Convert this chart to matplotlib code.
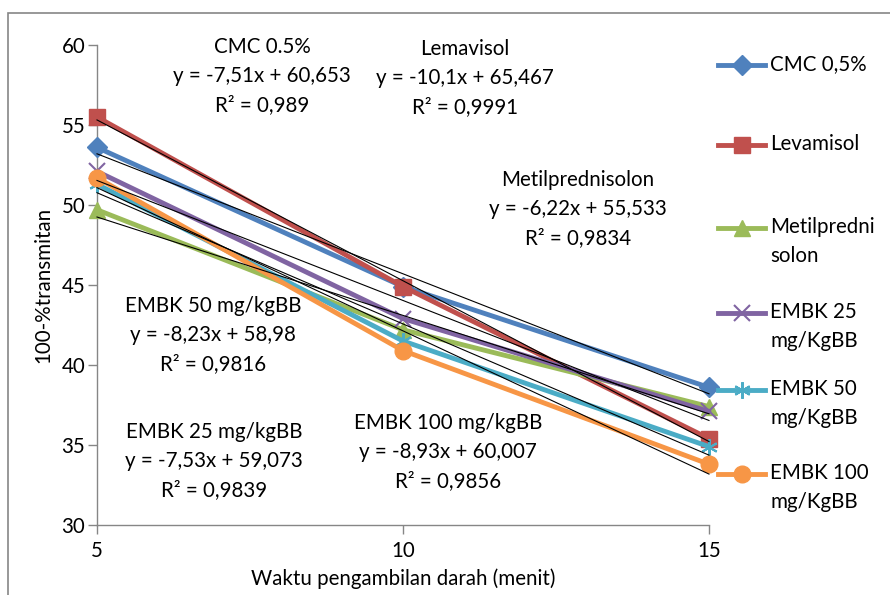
import numpy as np
import matplotlib
matplotlib.use("Agg")
import matplotlib.pyplot as plt
from matplotlib.lines import Line2D
from matplotlib.patches import Rectangle

plt.rcParams['font.family'] = ['Lato', 'DejaVu Sans']

# Data
times = [5, 10, 15]
series_names = ["CMC 0,5%", "Levamisol", "Metilpredni\nsolon",
                "EMBK 25\nmg/KgBB", "EMBK 50\nmg/KgBB", "EMBK 100\nmg/KgBB"]
cmc = [53.6, 44.9, 38.6]
levamisol = [55.5, 44.9, 35.4]
metil = [49.7, 42.2, 37.4]
embk25 = [52.1, 42.9, 37.1]
embk50 = [51.3, 41.5, 34.9]
embk100 = [51.7, 40.9, 33.8]
values = [cmc, levamisol, metil, embk25, embk50, embk100]

eq_labels = [
    "CMC 0.5%\ny = -7,51x + 60,653\nR² = 0,989",
    "Lemavisol\ny = -10,1x + 65,467\nR² = 0,9991",
    "Metilprednisolon\ny = -6,22x + 55,533\nR² = 0,9834",
    "EMBK 50 mg/kgBB\ny = -8,23x + 58,98\nR² = 0,9816",
    "EMBK 25 mg/kgBB\ny = -7,53x + 59,073\nR² = 0,9839",
    "EMBK 100 mg/kgBB\ny = -8,93x + 60,007\nR² = 0,9856",
]
# label positions (pixel centers of first line)
eq_pos = [(262, 48), (465, 50), (578, 181), (213, 307), (214, 433), (448, 424)]

colors = ["#4F81BD", "#C0504D", "#9BBB59", "#8064A2", "#4BACC6", "#F79646"]
markers = ["D", "s", "^", "x", (6, 2, 0), "o"]
msizes = [10, 11, 11, 12, 12, 12]
medge = [1, 1, 1, 1.5, 1.5, 1]

FS = 14.8
W, H = 890, 595
fig = plt.figure(figsize=(W / 100, H / 100), dpi=100)
ax = fig.add_axes([97 / W, 1 - 525 / H, (709 - 97) / W, (525 - 45) / H])

# outer chart border
fig.patches.append(Rectangle((8 / W, -0.1), 1.2, 1 - 13 / H + 0.1, transform=fig.transFigure,
                             fill=False, edgecolor="#868686", linewidth=1.2, zorder=0))

for vals, c, m, ms, me in zip(values, colors, markers, msizes, medge):
    ax.plot(times, vals, color=c, lw=3.5, marker=m, markersize=ms,
            markeredgecolor=c, markerfacecolor=c, markeredgewidth=me if m in ("x", (6, 2, 0)) else 1,
            zorder=3, solid_capstyle='round', clip_on=False)

for vals in values:
    k, b = np.polyfit(times, vals, 1)
    xs = np.array([times[0], times[-1]])
    ax.plot(xs, k * xs + b, color="black", lw=0.8, zorder=4, clip_on=False)

ax.set_xlim(5, 15)
ax.set_ylim(30, 60)
ax.set_xticks([5, 10, 15])
ax.set_yticks(range(30, 61, 5))
for s in ["top", "right"]:
    ax.spines[s].set_visible(False)
for s in ["left", "bottom"]:
    ax.spines[s].set_color("#868686")
    ax.spines[s].set_linewidth(1)
ax.tick_params(axis="both", colors="#868686", labelcolor="black", labelsize=FS,
               length=6.5, width=1, direction="out", pad=2)
ax.tick_params(axis="x", pad=5)
ax.set_xlabel("Waktu pengambilan darah (menit)", fontsize=FS, labelpad=5)
ax.set_ylabel("100-%transmitan", fontsize=FS, labelpad=6)

for txt, (px, py) in zip(eq_labels, eq_pos):
    fig.text(px / W, 1 - (py - 11) / H, txt, ha="center", va="top",
             fontsize=FS, linespacing=1.58)

# legend (manual)
leg_y = [65, 145, 228, 313, 390, 474]
for name, c, m, ms, me, ly in zip(series_names, colors, markers, msizes, medge, leg_y):
    yy = 1 - ly / H
    fig.add_artist(Line2D([718 / W, 765 / W], [yy, yy], transform=fig.transFigure,
                          color=c, lw=3.5))
    fig.add_artist(Line2D([741.5 / W], [yy], transform=fig.transFigure, color=c,
                          marker=m, markersize=ms, markeredgecolor=c, markerfacecolor=c,
                          markeredgewidth=me if m in ("x", (6, 2, 0)) else 1))
    fig.text(770 / W, 1 - (ly - 11) / H, name, ha="left", va="top",
             fontsize=FS, linespacing=1.58)

fig.savefig("out.png", dpi=100)
